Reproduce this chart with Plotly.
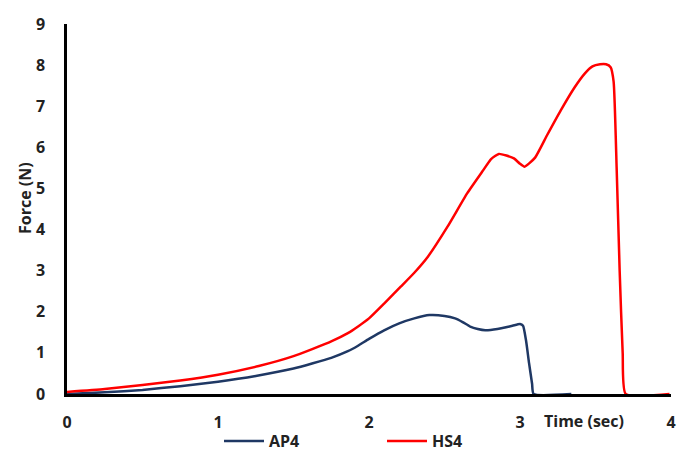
import plotly.graph_objects as go

# Force-time traces for the two specimens
ap4_time = [0.0, 0.25, 0.5, 0.75, 1.0, 1.25, 1.5, 1.75, 1.86, 1.93, 2.0, 2.1, 2.2, 2.3, 2.4, 2.5,
            2.57, 2.62, 2.67, 2.72, 2.77, 2.85, 2.95, 3.0, 3.02, 3.04, 3.06, 3.08, 3.09, 3.34]
ap4_force = [0.0, 0.04, 0.1, 0.19, 0.3, 0.44, 0.62, 0.88, 1.04, 1.18, 1.34, 1.55, 1.72, 1.84, 1.92, 1.9,
             1.84, 1.75, 1.64, 1.58, 1.55, 1.58, 1.66, 1.7, 1.66, 1.3, 0.75, 0.25, 0.0, 0.0]

hs4_time = [0.0, 0.25, 0.5, 0.75, 1.0, 1.27, 1.5, 1.75, 1.86, 1.93, 2.0, 2.1, 2.21, 2.3, 2.39, 2.52,
            2.65, 2.75, 2.81, 2.86, 2.91, 2.96, 3.0, 3.03, 3.1, 3.18, 3.27, 3.36, 3.43, 3.48,
            3.53, 3.57, 3.6, 3.62, 3.64, 3.66, 3.68, 3.7, 3.99]
hs4_force = [0.05, 0.12, 0.22, 0.33, 0.47, 0.68, 0.92, 1.28, 1.48, 1.65, 1.84, 2.2, 2.61, 2.95, 3.34, 4.07,
             4.88, 5.41, 5.72, 5.84, 5.8, 5.73, 5.6, 5.53, 5.75, 6.3, 6.9, 7.45, 7.8, 7.97,
             8.02, 8.02, 7.95, 7.6, 5.5, 3.0, 1.0, 0.0, 0.0]

x_ticks = [0, 1, 2, 3, 4]
y_ticks = [0, 1, 2, 3, 4, 5, 6, 7, 8, 9]

# plot-area geometry in pixels
W, H = 678, 452
L, R, T, B = 67, 7, 24, 58
plot_w = W - L - R
plot_h = H - T - B


def px_x(px):
    return (px - L) / plot_w


def px_y(py):
    return (H - B - py) / plot_h


fig = go.Figure()
fig.add_trace(go.Scatter(x=ap4_time, y=ap4_force, mode="lines", name="AP4",
                         line=dict(color="#1F3864", width=2.5, shape="spline", smoothing=0.5)))
fig.add_trace(go.Scatter(x=hs4_time, y=hs4_force, mode="lines", name="HS4",
                         line=dict(color="#FF0000", width=2.5, shape="spline", smoothing=0.5)))

tick_font = dict(family="Open Sans", size=16, color="#222222", weight="bold")

fig.update_layout(
    width=W, height=H,
    margin=dict(l=L, r=R, t=T, b=B, autoexpand=False),
    plot_bgcolor="white", paper_bgcolor="white",
    showlegend=True,
    legend=dict(orientation="h", x=px_x(219), xanchor="left", y=px_y(424), yanchor="top",
                font=dict(family="Open Sans", size=16, color="#222222", weight="bold"),
                entrywidth=108, entrywidthmode="pixels", itemwidth=40, tracegroupgap=0,
                bgcolor="rgba(0,0,0,0)"),
    xaxis=dict(range=[0, 4], tickvals=x_ticks, showgrid=False, zeroline=False,
               showline=True, linecolor="black", linewidth=2.5, ticks="",
               ticklabelstandoff=12, ticklabeloverflow="allow", tickfont=tick_font),
    yaxis=dict(range=[0, 9], tickvals=y_ticks, showgrid=False, zeroline=False,
               showline=True, linecolor="black", linewidth=2.5, ticks="",
               ticklabelstandoff=16, tickfont=tick_font),
    annotations=[
        dict(text="Force (N)", x=px_x(25), y=px_y(198), xref="paper", yref="paper",
             xanchor="center", yanchor="middle", showarrow=False, textangle=-90, font=tick_font),
        dict(text="Time (sec)", x=px_x(584), y=px_y(421), xref="paper", yref="paper",
             xanchor="center", yanchor="middle", showarrow=False, font=tick_font),
    ],
)

fig.write_html("out.html")
